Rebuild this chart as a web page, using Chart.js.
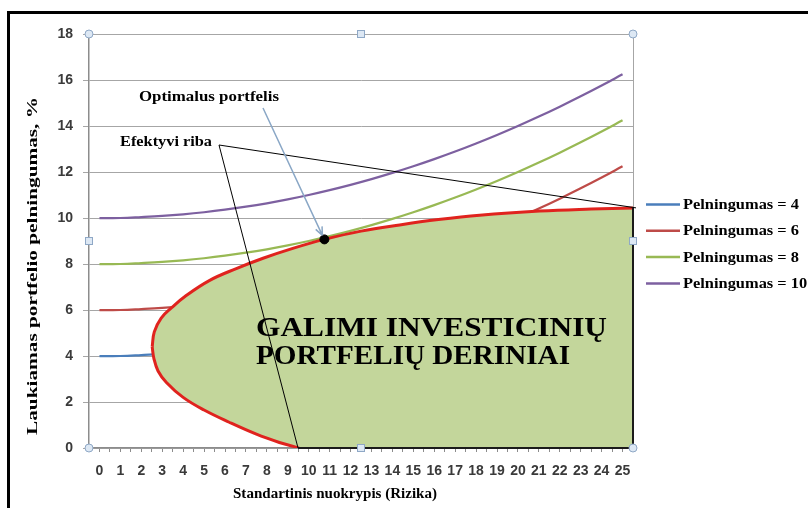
<!DOCTYPE html>
<html>
<head>
<meta charset="utf-8">
<script src="https://cdn.jsdelivr.net/npm/chart.js@4.4.0/dist/chart.umd.min.js"></script>
<style>
  html, body { margin: 0; padding: 0; background: #fff; }
  canvas { display: block; }
</style>
</head>
<body>
<canvas id="riskChart" width="808" height="508"></canvas>
<script>
// Risk levels (standard deviation), x axis
const riskLevels = [0, 1, 2, 3, 4, 5, 6, 7, 8, 9, 10, 11, 12, 13, 14, 15, 16, 17, 18, 19, 20, 21, 22, 23, 24, 25];

// Indifference curves, one per return level
const return4  = [4, 4, 4.04, 4.09, 4.16, 4.25, 4.36, 4.49, 4.64, 4.81, 5, 5.21, 5.44, 5.69, 5.96, 6.25, 6.56, 6.89, 7.24, 7.61, 8, 8.41, 8.84, 9.29, 9.76, 10.25];
const return6  = [6, 6, 6.04, 6.09, 6.16, 6.25, 6.36, 6.49, 6.64, 6.81, 7, 7.21, 7.44, 7.69, 7.96, 8.25, 8.56, 8.89, 9.24, 9.61, 10, 10.41, 10.84, 11.29, 11.76, 12.25];
const return8  = [8, 8, 8.04, 8.09, 8.16, 8.25, 8.36, 8.49, 8.64, 8.81, 9, 9.21, 9.44, 9.69, 9.96, 10.25, 10.56, 10.89, 11.24, 11.61, 12, 12.41, 12.84, 13.29, 13.76, 14.25];
const return10 = [10, 10, 10.04, 10.09, 10.16, 10.25, 10.36, 10.49, 10.64, 10.81, 11, 11.21, 11.44, 11.69, 11.96, 12.25, 12.56, 12.89, 13.24, 13.61, 14, 14.41, 14.84, 15.29, 15.76, 16.25];
const seriesNames = ['Pelningumas = 4', 'Pelningumas = 6', 'Pelningumas = 8', 'Pelningumas = 10'];

// Upper edge of the feasible set (efficient frontier)
const frontierRisk   = [2.52, 2.62, 2.95, 3.45, 4.1, 5.27, 6.54, 7.82, 9.24, 10.75, 12.5, 14.35, 16.2, 18.17, 21.04, 23.5, 25.5];
const frontierReturn = [4.4, 5.05, 5.65, 6.1, 6.6, 7.29, 7.8, 8.25, 8.68, 9.07, 9.43, 9.7, 9.93, 10.12, 10.3, 10.39, 10.44];

// Lower edge of the feasible set, continued below the axis so the fill meets y = 0
const lowerRisk   = [2.52, 2.6, 2.8, 3.2, 4.0, 5.0, 6.2, 7.5, 8.6, 9.49, 10.5, 25.5];
const lowerReturn = [4.4, 3.9, 3.35, 2.85, 2.2, 1.65, 1.12, 0.6, 0.24, 0, -0.5, -0.5];
const lowerEnd = 9; // index where the lower edge meets the axis

// Optimal portfolio (tangent point)
const optimalRisk = 10.75;
const optimalReturn = 9.07;

const seriesColors = ['#4A7EBB', '#BE4B48', '#98B954', '#7D60A0'];
const frontierRed = '#E0231E';
const feasibleFill = '#C3D69B';
const serif = '"Liberation Serif", "Times New Roman", serif';
const sans = '"Liberation Sans", Arial, sans-serif';

const toPoints = (xs, ys) => xs.map((x, i) => ({ x: x, y: ys[i] }));

const curveSets = [return4, return6, return8, return10].map((vals, i) => ({
  label: seriesNames[i],
  data: toPoints(riskLevels, vals),
  borderColor: seriesColors[i],
  borderWidth: 2.25,
  pointRadius: 0,
  tension: 0.4,
  fill: false,
  order: 1
}));

const lastIdx = frontierRisk.length - 1;

// draws text squeezed/stretched horizontally to a given width
function fitText(ctx, text, x, y, width, align) {
  const w = ctx.measureText(text).width;
  ctx.save();
  ctx.translate(x, y);
  ctx.scale(width / w, 1);
  ctx.textAlign = align;
  ctx.fillText(text, 0, 0);
  ctx.restore();
}

// Annotations, legend, handles and axis titles
const decorations = {
  id: 'decorations',
  afterDraw(chart) {
    const { ctx, chartArea: a, scales: { x, y } } = chart;
    ctx.save();

    // black frame
    ctx.fillStyle = '#000';
    ctx.fillRect(7, 11, 801, 3);
    ctx.fillRect(7, 11, 3, 497);

    // "Efektyvi riba" leader lines
    ctx.strokeStyle = '#000';
    ctx.lineWidth = 1;
    ctx.beginPath();
    ctx.moveTo(219, 145);
    ctx.lineTo(x.getPixelForValue(frontierRisk[lastIdx]) + 3, y.getPixelForValue(frontierReturn[lastIdx]));
    ctx.moveTo(219, 145);
    ctx.lineTo(x.getPixelForValue(lowerRisk[lowerEnd]), y.getPixelForValue(0));
    ctx.stroke();

    // arrow to the optimal portfolio
    const tx = x.getPixelForValue(optimalRisk) - 2;
    const ty = y.getPixelForValue(optimalReturn) - 4;
    const sx = 263, sy = 108;
    ctx.strokeStyle = '#8AA7C6';
    ctx.lineWidth = 1.5;
    ctx.beginPath();
    ctx.moveTo(sx, sy);
    ctx.lineTo(tx, ty);
    const ang = Math.atan2(ty - sy, tx - sx);
    ctx.moveTo(tx, ty);
    ctx.lineTo(tx - 9 * Math.cos(ang - 0.4), ty - 9 * Math.sin(ang - 0.4));
    ctx.moveTo(tx, ty);
    ctx.lineTo(tx - 9 * Math.cos(ang + 0.4), ty - 9 * Math.sin(ang + 0.4));
    ctx.stroke();

    // labels
    ctx.fillStyle = '#000';
    ctx.textBaseline = 'middle';
    ctx.font = 'bold 15px ' + serif;
    fitText(ctx, 'Optimalus portfelis', 139, 97, 140, 'left');
    fitText(ctx, 'Efektyvi riba', 120, 142, 92, 'left');

    ctx.font = 'bold 27px ' + serif;
    ctx.textBaseline = 'alphabetic';
    fitText(ctx, 'GALIMI INVESTICINIŲ', 256, 336, 351, 'left');
    fitText(ctx, 'PORTFELIŲ DERINIAI', 256, 364, 314, 'left');

    // legend
    ctx.font = 'bold 14px ' + serif;
    ctx.textBaseline = 'middle';
    const k = 116 / ctx.measureText(seriesNames[0]).width;
    seriesNames.forEach((name, i) => {
      const ly = 204.5 + i * 26.3;
      ctx.strokeStyle = seriesColors[i];
      ctx.lineWidth = 2.5;
      ctx.beginPath();
      ctx.moveTo(646, ly);
      ctx.lineTo(680, ly);
      ctx.stroke();
      ctx.fillStyle = '#000';
      fitText(ctx, name, 683, ly + 1, ctx.measureText(name).width * k, 'left');
    });

    // axis titles
    ctx.font = 'bold 14px ' + serif;
    fitText(ctx, 'Standartinis nuokrypis (Rizika)', 335, 494, 204, 'center');
    ctx.save();
    ctx.translate(33, 266);
    ctx.rotate(-Math.PI / 2);
    fitText(ctx, 'Laukiamas portfelio pelningumas, %', 0, 0, 338, 'center');
    ctx.restore();

    // selection handles on the plot area
    const mx = (a.left + a.right) / 2, my = (a.top + a.bottom) / 2;
    ctx.fillStyle = '#DDE8F4';
    ctx.strokeStyle = '#8FA8C6';
    ctx.lineWidth = 1;
    [[a.left, a.top], [a.right, a.top], [a.left, a.bottom], [a.right, a.bottom]].forEach(([hx, hy]) => {
      ctx.beginPath();
      ctx.arc(hx, hy, 4, 0, Math.PI * 2);
      ctx.fill();
      ctx.stroke();
    });
    [[mx, a.top], [a.left, my], [a.right, my], [mx, a.bottom]].forEach(([hx, hy]) => {
      ctx.fillRect(hx - 3.5, hy - 3.5, 7, 7);
      ctx.strokeRect(hx - 3.5, hy - 3.5, 7, 7);
    });

    ctx.restore();
  }
};

const ctx = document.getElementById('riskChart').getContext('2d');
const riskChart = new Chart(ctx, {
  type: 'line',
  data: {
    datasets: [
      {
        label: 'Optimalus portfelis',
        data: [{ x: optimalRisk, y: optimalReturn }],
        showLine: false,
        pointRadius: 4.5,
        pointBackgroundColor: '#000',
        pointBorderColor: '#000',
        order: 0
      },
      {
        label: 'edges',
        data: [
          { x: frontierRisk[lastIdx], y: frontierReturn[lastIdx] },
          { x: frontierRisk[lastIdx], y: 0 },
          { x: lowerRisk[lowerEnd], y: 0 }
        ],
        borderColor: '#1B1B1B',
        borderWidth: 2,
        pointRadius: 0,
        tension: 0,
        clip: false,
        order: 0
      },
      {
        label: 'lower',
        data: toPoints(lowerRisk, lowerReturn),
        borderColor: frontierRed,
        borderWidth: 3,
        pointRadius: 0,
        tension: 0.4,
        clip: { left: 4, top: 4, right: 4, bottom: 0 },
        order: 0
      },
      {
        label: 'frontier',
        data: toPoints(frontierRisk, frontierReturn),
        borderColor: frontierRed,
        borderWidth: 3,
        pointRadius: 0,
        tension: 0.4,
        fill: { target: 2, above: feasibleFill, below: feasibleFill },
        order: 0
      },
      ...curveSets
    ]
  },
  options: {
    responsive: false,
    animation: false,
    events: [],
    layout: { padding: { top: 34, right: 175, left: 0, bottom: 0 } },
    plugins: {
      legend: { display: false },
      tooltip: { enabled: false }
    },
    scales: {
      x: {
        type: 'linear',
        min: -0.5,
        max: 25.5,
        afterFit: (scale) => { scale.height = 60; },
        border: { color: '#8C8C8C', width: 1.5 },
        grid: {
          color: (c) => (c.tick && c.tick.value === 25.5 ? '#A6A6A6' : 'rgba(0,0,0,0)'),
          tickColor: '#8C8C8C',
          tickLength: 4
        },
        ticks: {
          stepSize: 0.5,
          autoSkip: false,
          maxRotation: 0,
          padding: 11,
          color: '#3A3A3A',
          font: { family: sans, weight: 'bold', size: 14 },
          callback: (v) => (Number.isInteger(v) && v >= 0 ? String(v) : '')
        }
      },
      y: {
        min: 0,
        max: 18,
        afterFit: (scale) => { scale.width = 89; },
        border: { color: '#8C8C8C', width: 1.5 },
        grid: { color: '#A6A6A6', tickColor: '#A6A6A6', tickLength: 6 },
        ticks: {
          stepSize: 2,
          padding: 10,
          color: '#3A3A3A',
          font: { family: sans, weight: 'bold', size: 14 }
        }
      }
    }
  },
  plugins: [decorations]
});
</script>
</body>
</html>
